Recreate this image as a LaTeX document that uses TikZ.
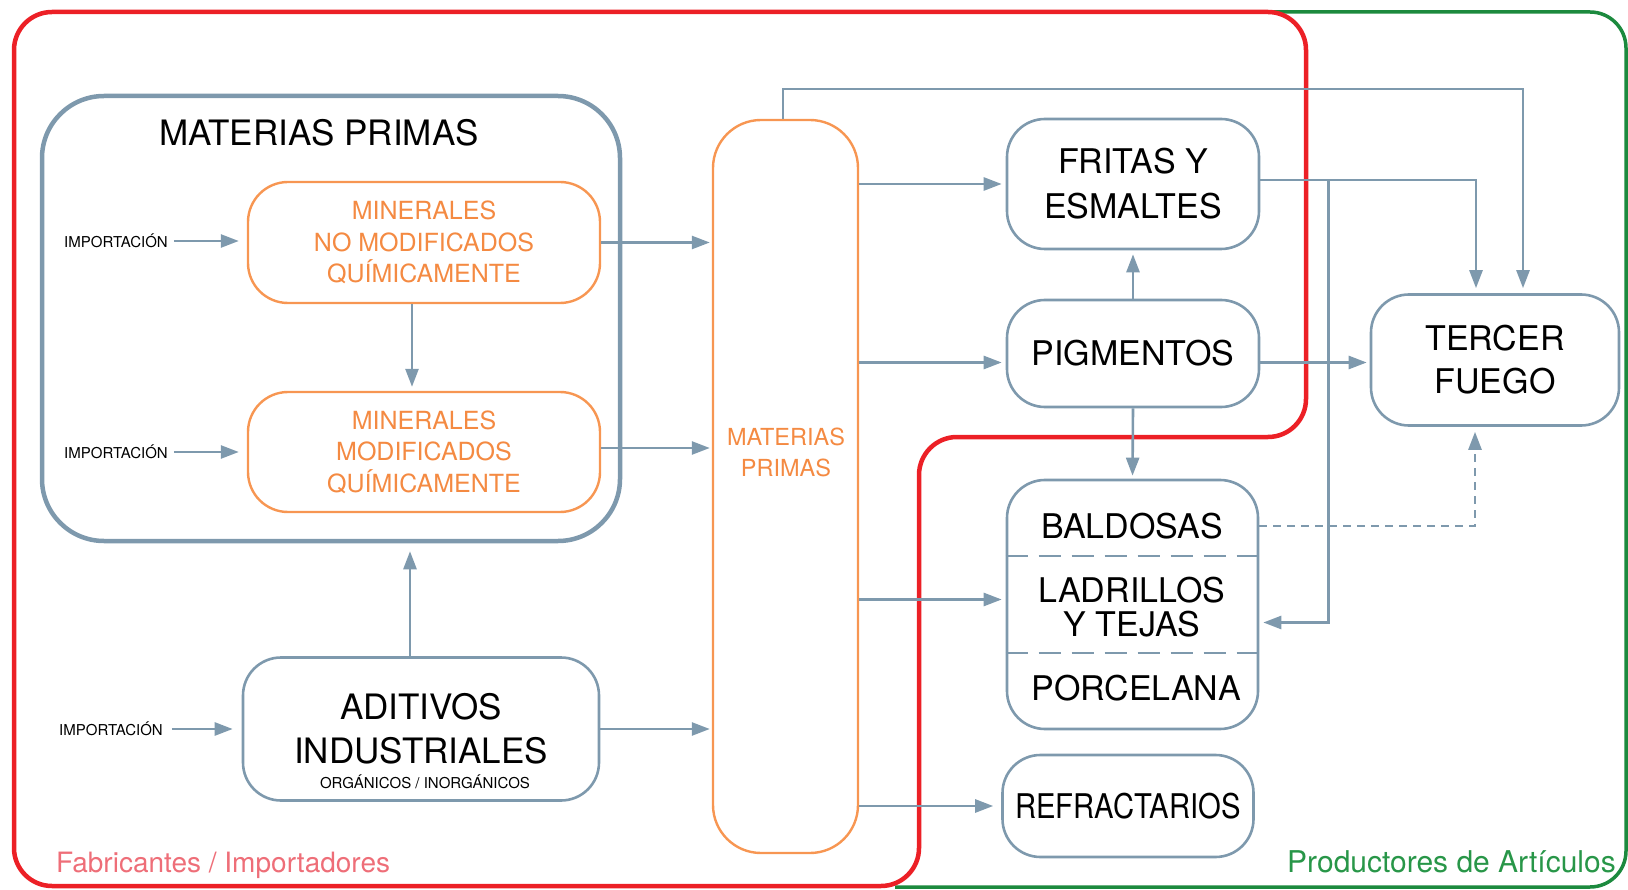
\documentclass[tikz,border=0pt]{standalone}
\usepackage{fontspec}
\usepackage{graphicx}
\setmainfont{TeX Gyre Heros}
\usetikzlibrary{arrows.meta}
\definecolor{gr}{RGB}{126,153,173}
\definecolor{orl}{RGB}{247,150,82}
\definecolor{ort}{RGB}{244,138,66}
\definecolor{rd}{RGB}{236,32,38}
\definecolor{grn}{RGB}{28,138,62}
\definecolor{fabc}{RGB}{238,110,120}
\definecolor{prodc}{RGB}{40,150,72}
\begin{document}
\begin{tikzpicture}[x=1pt,y=-1pt,
  box/.style={draw=gr, line width=2.6pt, rounded corners=38pt, inner sep=0pt, align=center, font=\fontsize{34}{45}\selectfont},
  obox/.style={draw=orl, line width=2.4pt, rounded corners=40pt, inner sep=0pt, text=ort, align=center, font=\fontsize{25}{31.5}\selectfont},
  arr/.style={draw=gr, line width=2.6pt, -{Triangle[length=18pt,width=13pt]}},
  imp/.style={font=\fontsize{15}{18}\selectfont, inner sep=0pt},
  txt/.style={font=\fontsize{34}{34}\selectfont, inner sep=0pt, align=center},
  sep/.style={draw=gr, line width=2.6pt, dash pattern=on 22pt off 11pt}
]
\useasboundingbox (0,0) rectangle (1628,890);

% regions
\draw[grn, line width=3.5pt, rounded corners=36pt] (1272,12) -- (1626,12) -- (1626,887) -- (895,887);
\draw[rd, line width=4.5pt, rounded corners=38pt] (14,450) -- (14,12) -- (1306,12) -- (1306,437) -- (919,437) -- (919,886) -- (14,886) -- cycle;

% left group
\node[draw=gr, line width=4.5pt, rounded corners=62pt, minimum width=578pt, minimum height=445pt, inner sep=0pt] (mp) at (331,318.5) {};
\node[font=\fontsize{35}{42}\selectfont, inner sep=0pt] (mptitle) at (319,133) {MATERIAS PRIMAS};
\node[obox, minimum width=352pt, minimum height=121pt] (min1) at (424,242.5) {MINERALES\\NO MODIFICADOS\\QUÍMICAMENTE};
\node[obox, minimum width=352pt, minimum height=120pt] (min2) at (424,452) {MINERALES\\MODIFICADOS\\QUÍMICAMENTE};
\node[box, minimum width=356pt, minimum height=143pt, font=\fontsize{35}{44}\selectfont] (ad) at (421,729) {ADITIVOS\\INDUSTRIALES};
\node[font=\fontsize{15}{18}\selectfont, inner sep=0pt] (adsub) at (425,782) {ORGÁNICOS / INORGÁNICOS};
\node[imp] (imp1) at (116,241) {IMPORTACIÓN};
\node[imp] (imp2) at (116,452) {IMPORTACIÓN};
\node[imp] (imp3) at (111,729) {IMPORTACIÓN};

% tall box
\node[draw=orl, line width=2.4pt, rounded corners=48pt, minimum width=145pt, minimum height=733pt, inner sep=0pt] (tall) at (785.5,486.5) {};
\node[text=ort, align=center, font=\fontsize{23.5}{31}\selectfont, inner sep=0pt] (talltxt) at (786,452.5) {MATERIAS\\PRIMAS};

% right boxes
\node[box, minimum width=252pt, minimum height=130pt] (fritas) at (1133,184) {FRITAS Y\\ESMALTES};
\node[box, minimum width=252pt, minimum height=107pt] (pig) at (1133,353.5) {PIGMENTOS};
\node[box, minimum width=248pt, minimum height=131pt, font=\fontsize{34}{43}\selectfont] (tercer) at (1495,360) {TERCER\\FUEGO};
\node[box, minimum width=251pt, minimum height=102pt] (refr) at (1128,806) {\scalebox{0.86}[1]{REFRACTARIOS}};
\node[box, minimum width=251pt, minimum height=249pt] (prod) at (1132.5,604.5) {};
\node[txt] (bal) at (1132,526) {BALDOSAS};
\node[txt] (lad) at (1132,607) {LADRILLOS\\Y TEJAS};
\node[txt] (por) at (1136,688) {PORCELANA};
\coordinate (d1) at (1132,556);
\coordinate (d2) at (1132,653);
\draw[sep] (prod.west |- d1) -- (prod.east |- d1);
\draw[sep] (prod.west |- d2) -- (prod.east |- d2);

% text labels
\node[anchor=west, text=fabc, font=\fontsize{28}{32}\selectfont, inner sep=0pt] (fab) at (56,865) {Fabricantes / Importadores};
\node[anchor=east, text=prodc, font=\fontsize{30}{34}\selectfont, inner sep=0pt] (prc) at (1616,862) {Productores de Artículos};

% connectors
\draw[arr, shorten <=6pt, shorten >=8pt] (imp1.east) -- (imp1.east -| min1.west);
\draw[arr, shorten <=6pt, shorten >=8pt] (imp2.east) -- (imp2.east -| min2.west);
\draw[arr, shorten <=9pt, shorten >=9pt] (imp3.east) -- (imp3.east -| ad.west);
\draw[arr, shorten >=4pt] ([xshift=-12pt]min1.south) -- ([xshift=-12pt]min1.south |- min2.north);
\draw[arr, shorten >=8pt] ([xshift=-11pt]ad.north) -- ([xshift=-11pt]ad.north |- mp.south);
\draw[arr, shorten >=2pt] (min1.east) -- (min1.east -| tall.west);
\draw[arr, shorten >=2pt] ([yshift=4pt]min2.east) -- ([yshift=4pt]min2.east -| tall.west);
\draw[arr, shorten >=2pt] (ad.east) -- (ad.east -| tall.west);
\draw[arr, shorten >=4pt] (tall.east |- fritas.west) -- (fritas.west);
\coordinate (pigin) at ([yshift=-9pt]pig.west);
\draw[arr, shorten >=4pt] (tall.east |- pigin) -- (pigin);
\coordinate (prodin) at ([yshift=5pt]prod.west);
\draw[arr, shorten >=4pt] (tall.east |- prodin) -- (prodin);
\draw[arr, shorten >=8pt] (tall.east |- refr.west) -- (refr.west);
\draw[arr, shorten >=4pt] (pig.north) -- (fritas.south);
\draw[arr, shorten >=3pt] (pig.south) -- (prod.north);
\draw[arr, shorten >=3pt] ([yshift=-9pt]pig.east) -- ([yshift=-9pt]pig.east -| tercer.west);
\draw[arr, shorten >=5pt] ([yshift=4pt]fritas.east) -| ([xshift=-19pt]tercer.north);
\coordinate (ytop) at (783,89);
\draw[arr, shorten >=5pt] (tall.north -| ytop) -- (ytop) -| ([xshift=28pt]tercer.north);
\draw[arr, shorten >=4pt] ([yshift=4pt,xshift=68pt]fritas.east) |- ([yshift=-18pt]prod.east);
\draw[arr, dash pattern=on 8pt off 6pt, shorten >=5pt] (prod.east |- bal) -| ([xshift=-20pt]tercer.south);
\end{tikzpicture}
\end{document}
